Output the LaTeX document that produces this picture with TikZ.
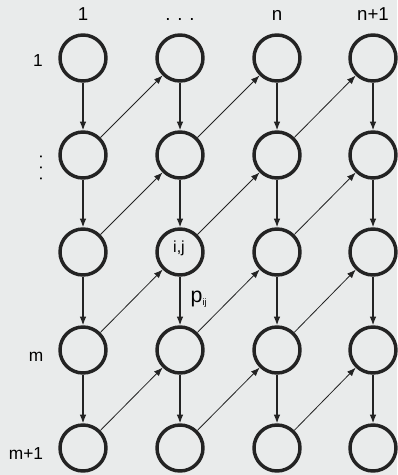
\documentclass[tikz,border=0pt]{standalone}
\usepackage{fontspec}
\setmainfont{Liberation Sans}
\usetikzlibrary{arrows.meta}
\definecolor{paper}{RGB}{233,235,235}
\definecolor{ink}{RGB}{35,35,35}

\begin{document}
\begin{tikzpicture}[x=0.75pt,y=-0.75pt,
  state/.style={circle,draw=ink,line width=2.6pt,minimum size=34.5pt,inner sep=0pt},
  down/.style={draw=ink,line width=0.9pt,-{Latex[length=6.5pt,width=5pt]}},
  diag/.style={draw=ink,line width=0.6pt,-{Latex[length=6.5pt,width=5pt]}},
  head/.style={anchor=base,font=\fontsize{14}{16}\selectfont},
  side/.style={anchor=base,font=\fontsize{13}{15}\selectfont}]
% paper
\fill[paper] (0,0) rectangle (397,475);
% states
\foreach \c/\x in {1/83,2/180,3/277,4/373}
  \foreach \r/\y in {1/58,2/155,3/252,4/350,5/448}
    {\node[state] (s\r\c) at (\x,\y){};}
\node[font=\fontsize{12}{13}\selectfont] (ij) at (179,248){i,j};
% column labels
\node[head] (h1) at (83,20){1};
\node[head] (h2) at (180,20){. . .};
\node[head] (h3) at (277,20){n};
\node[head] (h4) at (373,20){n+1};
% row labels
\node[side] (r1) at (38,66){1};
\node[rotate=-90,font=\fontsize{13}{15}\selectfont] (r2) at (41,168){. . .};
\node[side] (r4) at (36,361){m};
\node[side] (r5) at (26,459){m+1};
% down arrows
\foreach \c in {1,...,4}
  \foreach \r [count=\n from 2] in {1,...,4}
    {\draw[down] (s\r\c) -- (s\n\c);}
% diagonal arrows
\foreach \c [count=\d from 2] in {1,2,3}
  \foreach \r [count=\q from 1] in {2,...,5}
    {\draw[diag] (s\r\c) -- (s\q\d);}
\node[font=\fontsize{16}{17}\selectfont,anchor=west] (p) at (186,299){p\textsubscript{\fontsize{7}{8}\selectfont ij}};
\end{tikzpicture}
\end{document}
